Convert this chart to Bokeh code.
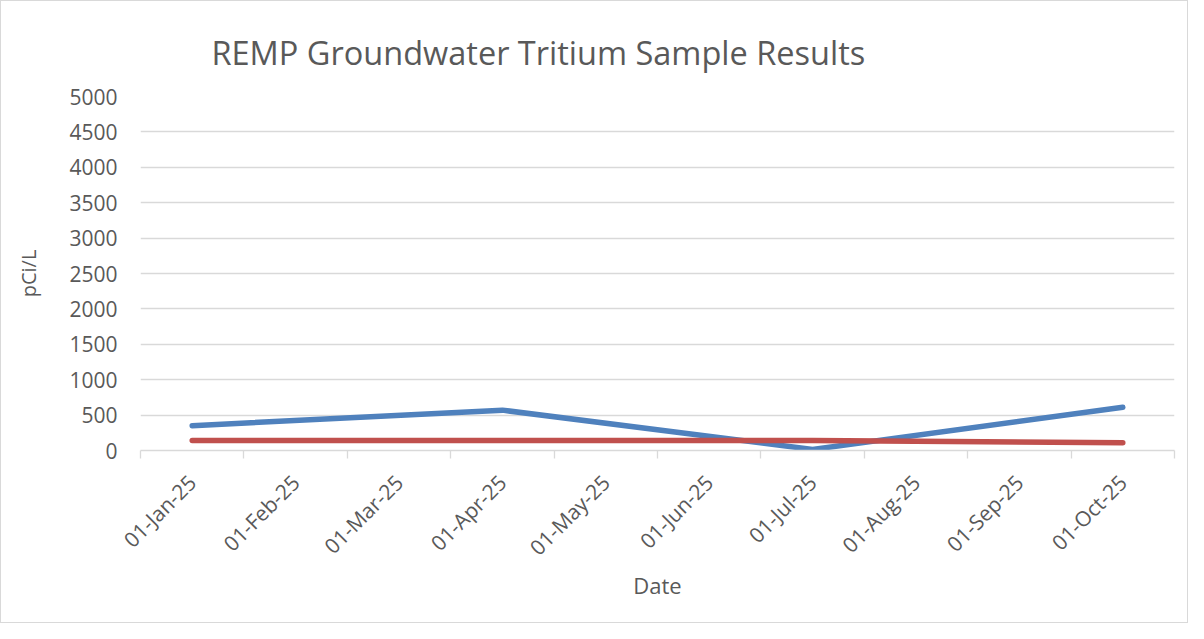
from math import pi
from bokeh.plotting import figure
from bokeh.models import Range1d, FixedTicker
from bokeh.embed import file_html
from bokeh.resources import INLINE

# ---- data ----
month_labels = ["01-Jan-25", "01-Feb-25", "01-Mar-25", "01-Apr-25", "01-May-25",
                "01-Jun-25", "01-Jul-25", "01-Aug-25", "01-Sep-25", "01-Oct-25"]
sample_dates = ["01-Jan-25", "01-Apr-25", "01-Jul-25", "01-Oct-25"]
blue_values = [350, 570, 15, 610]
red_values = [140, 140, 140, 110]
y_ticks = [0, 500, 1000, 1500, 2000, 2500, 3000, 3500, 4000, 4500, 5000]

BLUE = "#4F81BD"
RED = "#C0504D"
TXT = "#595959"
GRID = "#D9D9D9"
FONT = "Open Sans"

xs = [month_labels.index(d) for d in sample_dates]

p = figure(width=1188, height=623, output_backend="svg", toolbar_location=None,
           x_range=Range1d(-0.5, len(month_labels) - 0.5), y_range=Range1d(0, 5000),
           min_border_left=139, min_border_right=15, min_border_top=95, min_border_bottom=174,
           title="REMP Groundwater Tritium Sample Results",
           styles={"border": "1px solid #d9d9d9"})

p.title.text_font = FONT
p.title.text_font_size = "32.5px"
p.title.text_font_style = "normal"
p.title.text_color = TXT
p.title.offset = 71
p.title.standoff = 43

p.line(xs, blue_values, line_color=BLUE, line_width=5.5, line_cap="round", line_join="round")
p.line(xs, red_values, line_color=RED, line_width=5.5, line_cap="round", line_join="round")

p.outline_line_color = None
p.xgrid.grid_line_color = None
p.ygrid.grid_line_color = GRID
p.ygrid.grid_line_width = 1.3
p.ygrid.ticker = FixedTicker(ticks=y_ticks)

# x axis
xa = p.xaxis[0]
xa.ticker = FixedTicker(ticks=list(range(len(month_labels))),
                        minor_ticks=[i - 0.5 for i in range(len(month_labels) + 1)])
xa.major_label_overrides = {i: lab for i, lab in enumerate(month_labels)}
xa.major_label_orientation = pi / 4
xa.major_tick_line_color = None
xa.minor_tick_line_color = GRID
xa.minor_tick_line_width = 1.3
xa.minor_tick_in = 0
xa.minor_tick_out = 8
xa.axis_line_color = GRID
xa.axis_line_width = 1.3
xa.major_label_text_font = FONT
xa.major_label_text_font_size = "21px"
xa.major_label_text_color = TXT
xa.major_label_standoff = 20
xa.axis_label = "Date"
xa.axis_label_text_font = FONT
xa.axis_label_text_font_size = "22px"
xa.axis_label_text_font_style = "normal"
xa.axis_label_text_color = TXT
xa.axis_label_standoff = -4

# y axis
ya = p.yaxis[0]
ya.ticker = FixedTicker(ticks=y_ticks)
ya.axis_line_color = None
ya.major_tick_line_color = None
ya.minor_tick_line_color = None
ya.major_tick_out = 0
ya.major_label_standoff = 23
ya.major_label_text_font = FONT
ya.major_label_text_font_size = "21px"
ya.major_label_text_color = TXT
ya.axis_label = "pCi/L"
ya.axis_label_text_font = FONT
ya.axis_label_text_font_size = "20px"
ya.axis_label_text_font_style = "normal"
ya.axis_label_text_color = TXT
ya.axis_label_standoff = 24

open("out.html", "w").write(file_html(p, INLINE))
